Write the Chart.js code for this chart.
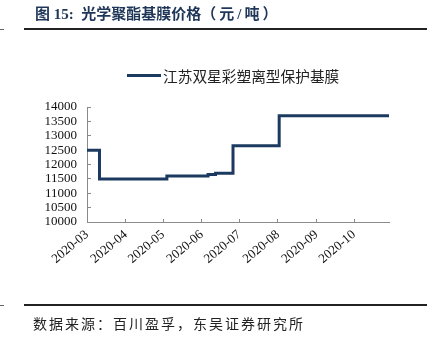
<!DOCTYPE html>
<html>
<head>
<meta charset="utf-8">
<script src="https://cdn.jsdelivr.net/npm/chart.js@4/dist/chart.umd.min.js"></script>
<style>
  html, body { margin: 0; padding: 0; background: #fff; }
  #wrap { position: relative; width: 432px; height: 340px; overflow: hidden; }
  #chart { position: absolute; left: 0; top: 0; }
  .title { position: absolute; left: 35px; top: 7px; font: bold 15px/15px "Liberation Serif", "Noto Sans CJK SC", serif; color: #1f3658; white-space: nowrap; }
  .title .unit { letter-spacing: 3px; }
  .rule { position: absolute; background: #222; }
  .legend-line { position: absolute; left: 127px; top: 73.5px; width: 34px; height: 3px; }
  .legend-text { position: absolute; left: 163px; top: 67.5px; font: 14.7px/15px "Noto Sans CJK SC", sans-serif; color: #222; white-space: nowrap; }
  .source { position: absolute; left: 33px; top: 315.5px; font: 14px/15px "Noto Sans CJK SC", sans-serif; letter-spacing: 2px; color: #222; white-space: nowrap; }
</style>
</head>
<body>
<div id="wrap">
  <canvas id="chart" width="432" height="340"></canvas>
  <div class="title">图 15:&nbsp; 光学聚酯基膜价格<span class="unit">（元/吨）</span></div>
  <div class="rule" style="left:24px;top:28px;width:403px;height:2px;"></div>
  <div class="rule" style="left:0;top:29px;width:4px;height:1px;background:#666;"></div>
  <div class="legend-line" id="legendLine"></div>
  <div class="legend-text" id="legendText"></div>
  <div class="rule" style="left:24px;top:304px;width:403px;height:2px;"></div>
  <div class="rule" style="left:0;top:305px;width:4px;height:1px;background:#666;"></div>
  <div class="source">数据来源：百川盈孚，东吴证券研究所</div>
</div>
<script>
// Price series: each entry is the date a new price took effect
const seriesName = '江苏双星彩塑离型保护基膜';
const changeDates = ['2020-03-01', '2020-03-11', '2020-05-04', '2020-06-06', '2020-06-12', '2020-06-26', '2020-08-02', '2020-10-29'];
const prices = [12500, 11500, 11600, 11650, 11700, 12650, 13700, 13700];
const monthLabels = ['2020-03', '2020-04', '2020-05', '2020-06', '2020-07', '2020-08', '2020-09', '2020-10'];
const yMin = 10000, yMax = 14000, yStep = 500;

const lineColor = '#1c3a60';
const axisColor = '#8a8a8a';
const tickFont = { family: '"Liberation Serif", "Times New Roman", serif', size: 13 };

// day offset from the first date, so the x axis is a true time scale
const origin = Date.UTC(2020, 2, 1);
function dayOf(s) {
  const p = s.split('-').map(Number);
  return Math.round((Date.UTC(p[0], p[1] - 1, p[2] || 1) - origin) / 86400000);
}

const points = changeDates.map((d, i) => ({ x: dayOf(d), y: prices[i] }));
const monthDays = monthLabels.map(m => dayOf(m + '-01'));

document.getElementById('legendLine').style.background = lineColor;
document.getElementById('legendText').textContent = seriesName;

new Chart(document.getElementById('chart'), {
  type: 'line',
  data: {
    datasets: [{
      label: seriesName,
      data: points,
      borderColor: lineColor,
      backgroundColor: lineColor,
      borderWidth: 3,
      stepped: true,
      pointRadius: 0,
      fill: false
    }]
  },
  options: {
    responsive: false,
    devicePixelRatio: 1,
    animation: false,
    layout: { padding: { left: 0, right: 43, top: 107, bottom: 0 } },
    plugins: { legend: { display: false }, tooltip: { enabled: false } },
    scales: {
      x: {
        type: 'linear',
        min: 0,
        max: points[points.length - 1].x,
        afterBuildTicks: s => { s.ticks = monthDays.map(v => ({ value: v })); },
        afterFit: s => { s.height = 118; },
        ticks: {
          autoSkip: false,
          maxRotation: 40,
          minRotation: 40,
          padding: 8,
          color: '#111',
          font: tickFont,
          callback: (v, i) => monthLabels[i]
        },
        grid: { drawOnChartArea: false, drawTicks: true, tickLength: -3, color: axisColor },
        border: { display: true, color: axisColor, width: 1 }
      },
      y: {
        min: yMin,
        max: yMax,
        afterFit: s => { s.width = 87; },
        ticks: {
          stepSize: yStep,
          autoSkip: false,
          padding: 14,
          color: '#111',
          font: tickFont,
          callback: v => String(v)
        },
        grid: { drawOnChartArea: false, drawTicks: true, tickLength: -4, color: axisColor },
        border: { display: true, color: axisColor, width: 1 }
      }
    }
  }
});
</script>
</body>
</html>
